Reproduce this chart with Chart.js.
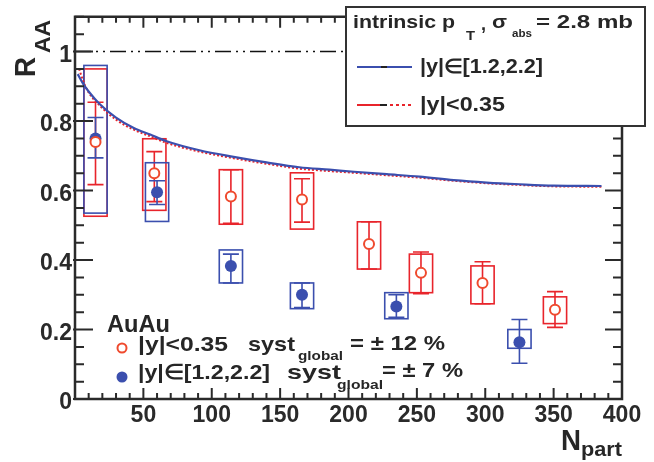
<!DOCTYPE html>
<html><head><meta charset="utf-8">
<script src="https://cdn.jsdelivr.net/npm/chart.js@4.4.0/dist/chart.umd.min.js"></script>
<style>html,body{margin:0;padding:0;background:#fff}#wrap{width:654px;height:462px}</style>
</head><body><div id="wrap"><canvas id="c" width="654" height="462"></canvas></div>
<script>
// ---------- data ----------
const X_TICKS = [0, 50, 100, 150, 200, 250, 300, 350, 400];
const Y_TICKS = [0, 0.2, 0.4, 0.6, 0.8, 1];

// model curves (intrinsic pT, sigma_abs = 2.8 mb)
const CURVE_N_FWD = [2, 6, 10, 18, 30, 43, 55, 67, 91, 116, 140, 164, 186, 204, 228, 252, 277, 301, 325, 350, 385];
const CURVE_FWD   = [0.935, 0.907, 0.885, 0.849, 0.81, 0.78, 0.761, 0.742, 0.716, 0.697, 0.681, 0.667, 0.66, 0.654, 0.647, 0.64, 0.63, 0.623, 0.618, 0.614, 0.613];
const CURVE_N_MID = [3, 6, 10, 18, 30, 43, 55, 67, 91, 116, 140, 164, 186, 204, 228, 252, 277, 301, 325, 350, 385];
const CURVE_MID   = [0.95, 0.915, 0.882, 0.845, 0.804, 0.775, 0.756, 0.737, 0.712, 0.693, 0.677, 0.663, 0.656, 0.651, 0.644, 0.637, 0.628, 0.621, 0.616, 0.612, 0.611];

// AuAu |y|<0.35
const MID_N       = [15, 58, 114, 166, 215, 253, 298, 351];
const MID_R       = [0.74, 0.65, 0.583, 0.574, 0.446, 0.363, 0.334, 0.257];
const MID_STAT_LO = [0.617, 0.568, 0.506, 0.509, 0.374, 0.303, 0.274, 0.206];
const MID_STAT_HI = [0.854, 0.712, 0.66, 0.634, 0.51, 0.423, 0.395, 0.309];
const MID_SYST_LO = [0.526, 0.543, 0.503, 0.489, 0.374, 0.306, 0.274, 0.217];
const MID_SYST_HI = [0.95, 0.749, 0.66, 0.651, 0.51, 0.417, 0.383, 0.294];

// AuAu |y| in [1.2,2.2]
const FWD_N       = [15, 60, 114, 166, 235, 325];
const FWD_R       = [0.75, 0.595, 0.383, 0.30, 0.266, 0.163];
const FWD_STAT_LO = [0.694, 0.56, 0.334, 0.263, 0.235, 0.103];
const FWD_STAT_HI = [0.81, 0.628, 0.417, 0.334, 0.30, 0.229];
const FWD_SYST_LO = [0.535, 0.511, 0.334, 0.26, 0.231, 0.146];
const FWD_SYST_HI = [0.96, 0.68, 0.429, 0.334, 0.306, 0.20];

// ---------- style ----------
const FONT = "'Liberation Sans', Arial, Helvetica, sans-serif";
const RED = '#e8242b', RED_MK = '#ef4a2e', BLUE = '#3b4fae', AX = '#2a2a2a', TXT = '#262626';
const BOX_HALF = 8.5;   // half width of syst boxes, in Npart units
const CAP = 8;          // error-bar cap half width (px)

const pts = (xs, ys) => xs.map((v, i) => ({x: v, y: ys[i]}));

function fitText(ctx, s, x, y, size, w, rot) {
  ctx.save();
  ctx.font = `bold ${size}px ${FONT}`;
  const m = ctx.measureText(s).width;
  ctx.translate(x, y);
  if (rot) ctx.rotate(rot);
  ctx.scale(w / m, 1);
  ctx.textAlign = 'left'; ctx.textBaseline = 'alphabetic';
  ctx.fillText(s, 0, 0);
  ctx.restore();
}

const decoPlugin = {
  id: 'deco',
  beforeDatasetsDraw(chart) {
    const ctx = chart.ctx, x = chart.scales.x, y = chart.scales.y;
    const draw = (N, lo, hi, sLo, sHi, col) => {
      ctx.save(); ctx.setLineDash([]); ctx.strokeStyle = col; ctx.lineWidth = 1.6;
      for (let i = 0; i < N.length; i++) {
        const px = x.getPixelForValue(N[i]);
        const bl = x.getPixelForValue(N[i] - BOX_HALF), br = x.getPixelForValue(N[i] + BOX_HALF);
        const yt = y.getPixelForValue(sHi[i]), yb = y.getPixelForValue(sLo[i]);
        ctx.strokeRect(bl, yt, br - bl, yb - yt);
        const et = y.getPixelForValue(hi[i]), eb = y.getPixelForValue(lo[i]);
        ctx.beginPath();
        ctx.moveTo(px, et); ctx.lineTo(px, eb);
        ctx.moveTo(px - CAP, et); ctx.lineTo(px + CAP, et);
        ctx.moveTo(px - CAP, eb); ctx.lineTo(px + CAP, eb);
        ctx.stroke();
      }
      ctx.restore();
    };
    draw(MID_N, MID_STAT_LO, MID_STAT_HI, MID_SYST_LO, MID_SYST_HI, RED);
    draw(FWD_N, FWD_STAT_LO, FWD_STAT_HI, FWD_SYST_LO, FWD_SYST_HI, BLUE);
  },
  afterDraw(chart) {
    const ctx = chart.ctx, x = chart.scales.x, y = chart.scales.y;
    const L0 = x.getPixelForValue(0), R0 = x.getPixelForValue(400);
    const B0 = y.getPixelForValue(0), T0 = y.getPixelForValue(1.1);
    ctx.save();
    ctx.setLineDash([]); ctx.globalAlpha = 1;
    // frame
    ctx.strokeStyle = AX; ctx.lineWidth = 2.5;
    ctx.beginPath();
    ctx.rect(L0, T0, R0 - L0, B0 - T0);
    ctx.stroke();
    // ticks
    ctx.lineWidth = 2;
    ctx.beginPath();
    for (let v = 0; v <= 400; v += 10) {
      const px = x.getPixelForValue(v);
      const L = (v % 50 === 0) ? 11 : 6;
      ctx.moveTo(px, B0); ctx.lineTo(px, B0 - L);
      ctx.moveTo(px, T0); ctx.lineTo(px, T0 + L);
    }
    for (let k = 0; k <= 22; k++) {
      const py = y.getPixelForValue(k * 0.05);
      const major = (k % 4 === 0);
      ctx.moveTo(L0 - (major ? 2 : 0), py); ctx.lineTo(L0 + (major ? 18 : 9), py);
      ctx.moveTo(R0, py); ctx.lineTo(R0 - (major ? 17 : 9), py);
    }
    ctx.stroke();

    // top-right legend box
    ctx.fillStyle = '#fff'; ctx.fillRect(346, 7, 299, 119);
    ctx.strokeStyle = '#333'; ctx.lineWidth = 2; ctx.strokeRect(346, 7, 299, 119);
    ctx.fillStyle = TXT;
    fitText(ctx, 'intrinsic p', 353, 28, 19, 102);
    fitText(ctx, 'T', 466, 40, 13, 9);
    fitText(ctx, ',', 481, 30, 19, 5);
    fitText(ctx, 'σ', 492, 28, 19, 15);
    fitText(ctx, 'abs', 512, 37, 11, 20);
    fitText(ctx, '= 2.8 mb', 536, 28, 19, 97);
    // legend samples
    ctx.lineWidth = 2;
    ctx.strokeStyle = BLUE; ctx.beginPath(); ctx.moveTo(357, 67); ctx.lineTo(412, 67); ctx.stroke();
    ctx.strokeStyle = '#222'; ctx.beginPath(); ctx.moveTo(381, 67); ctx.lineTo(387, 67); ctx.stroke();
    ctx.strokeStyle = RED; ctx.beginPath(); ctx.moveTo(357, 105); ctx.lineTo(380, 105); ctx.stroke();
    ctx.strokeStyle = '#222'; ctx.beginPath(); ctx.moveTo(380, 105); ctx.lineTo(387, 105); ctx.stroke();
    ctx.strokeStyle = RED; ctx.setLineDash([3, 3]); ctx.beginPath(); ctx.moveTo(390, 105); ctx.lineTo(412, 105); ctx.stroke();
    ctx.setLineDash([]);
    fitText(ctx, '|y|∈[1.2,2.2]', 420, 73, 20, 123);
    fitText(ctx, '|y|<0.35', 420, 111, 20, 85);

    // bottom-left legend
    fitText(ctx, 'AuAu', 107, 332, 23, 63);
    ctx.strokeStyle = RED_MK; ctx.lineWidth = 2; ctx.fillStyle = '#fff';
    ctx.beginPath(); ctx.arc(122, 348, 4.5, 0, 2 * Math.PI); ctx.fill(); ctx.stroke();
    ctx.fillStyle = BLUE;
    ctx.beginPath(); ctx.arc(122, 377, 5.5, 0, 2 * Math.PI); ctx.fill();
    ctx.fillStyle = TXT;
    fitText(ctx, '|y|<0.35', 138, 351, 21, 90);
    fitText(ctx, 'syst', 248, 351, 21, 47);
    fitText(ctx, 'global', 298, 360, 13, 45);
    fitText(ctx, '= ± 12 %', 350, 350, 21, 95);
    fitText(ctx, '|y|∈[1.2,2.2]', 138, 379, 21, 132);
    fitText(ctx, 'syst', 287, 379, 21, 54);
    fitText(ctx, 'global', 337, 389, 13, 46);
    fitText(ctx, '= ± 7 %', 382, 377, 21, 81);

    // axis titles
    fitText(ctx, 'R', 35, 77, 30, 20, -Math.PI / 2);
    fitText(ctx, 'AA', 50, 53, 22, 33, -Math.PI / 2);
    fitText(ctx, 'N', 561, 450, 29, 20);
    fitText(ctx, 'part', 581, 456, 20, 41);
    ctx.restore();
  }
};

const tickFont = {family: FONT, size: 23, weight: 'bold'};

new Chart(document.getElementById('c'), {
  type: 'scatter',
  data: {
    datasets: [
      {type: 'line', label: 'R_AA = 1', data: [{x: 0, y: 1}, {x: 400, y: 1}],
       borderColor: '#111', borderWidth: 1.5, borderDash: [16, 5, 2, 5, 2, 5], pointRadius: 0},
      {type: 'line', label: 'model |y|∈[1.2,2.2]', data: pts(CURVE_N_FWD, CURVE_FWD),
       borderColor: BLUE, borderWidth: 2.2, pointRadius: 0, cubicInterpolationMode: 'monotone'},
      {type: 'line', label: 'model |y|<0.35', data: pts(CURVE_N_MID, CURVE_MID),
       borderColor: RED, borderWidth: 2, borderDash: [2, 2], pointRadius: 0, cubicInterpolationMode: 'monotone'},
      {label: 'AuAu |y|<0.35', data: pts(MID_N, MID_R), pointRadius: 5, pointBorderWidth: 2,
       pointBackgroundColor: '#fff', pointBorderColor: RED_MK},
      {label: 'AuAu |y|∈[1.2,2.2]', data: pts(FWD_N, FWD_R), pointRadius: 6, pointBorderWidth: 0,
       pointBackgroundColor: BLUE, pointBorderColor: BLUE}
    ]
  },
  options: {
    responsive: false, animation: false, devicePixelRatio: 1,
    layout: {padding: {left: 0, right: 32, top: 15, bottom: 0}},
    plugins: {legend: {display: false}, tooltip: {enabled: false}},
    scales: {
      x: {type: 'linear', min: 0, max: 400,
          grid: {display: false, drawTicks: false, tickLength: 0}, border: {display: false},
          afterBuildTicks: s => { s.ticks = X_TICKS.map(v => ({value: v})); },
          afterFit: s => { s.height = 63; },
          ticks: {font: tickFont, color: AX, padding: 3, maxRotation: 0, autoSkip: false,
                  callback: v => v === 0 ? '' : String(v)}},
      y: {type: 'linear', min: 0, max: 1.1,
          grid: {display: false, drawTicks: false, tickLength: 0}, border: {display: false},
          afterBuildTicks: s => { s.ticks = Y_TICKS.map(v => ({value: v})); },
          afterFit: s => { s.width = 75; },
          ticks: {font: tickFont, color: AX, padding: 3, labelOffset: 4, autoSkip: false,
                  callback: v => v === 0 ? '0' : (v === 1 ? '1' : v.toFixed(1))}}
    }
  },
  plugins: [decoPlugin]
});
</script></body></html>
